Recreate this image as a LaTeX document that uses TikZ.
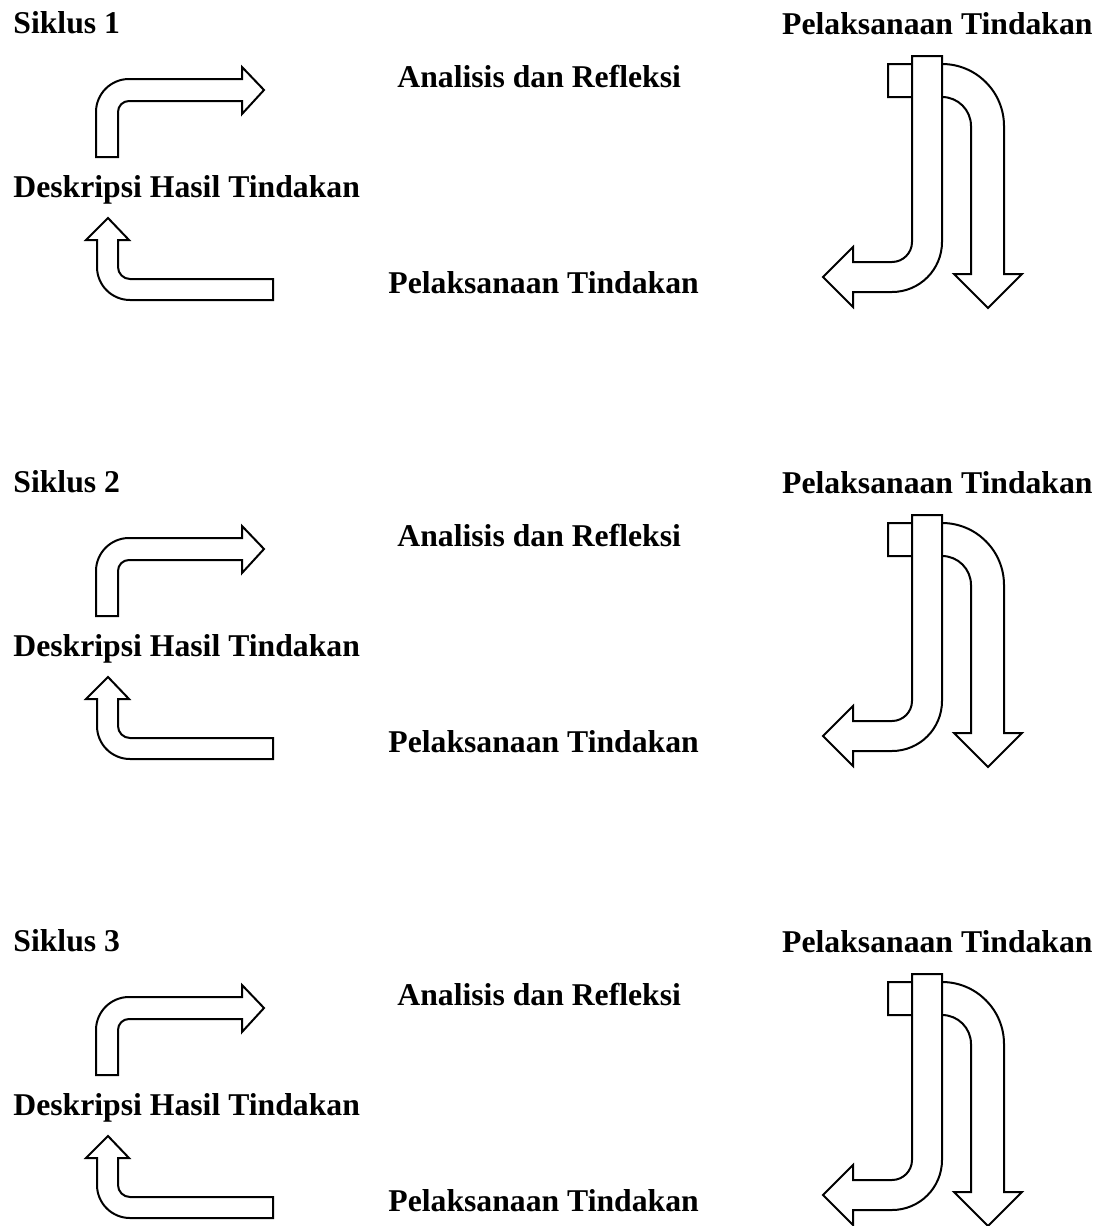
\documentclass[tikz,border=0pt]{standalone}
\usepackage{fontspec}
\setmainfont{Liberation Serif}
\usepackage{tikz}
\usetikzlibrary{positioning}

\begin{document}
\begin{tikzpicture}[x=0.5pt,y=-0.5pt,
  lbl/.style={inner sep=0pt,anchor=base west,font=\fontsize{15.85}{19}\selectfont\bfseries},
  blok/.style={draw=black,line width=1pt,fill=white,line join=miter}]
\useasboundingbox (0,0) rectangle (1102,1226);
\foreach \k in {1,2,3}{
\begin{scope}[shift={(0,{459*(\k-1)})}]
%-------->labels<--------------
\node[lbl] (sik\k) at (13,33) {Siklus \k}; % judul
\node[lbl,anchor=base east] (pelA\k) at (1093,34) {Pelaksanaan Tindakan}; % kanan atas
\node[lbl] (ana\k) at (397,87) {Analisis dan Refleksi};
\node[lbl] (des\k) at (13,197) {Deskripsi Hasil Tindakan};
\node[lbl] (pelB\k) at (388,293) {Pelaksanaan Tindakan};
%------------->left arrows<------------------
\draw[blok] (96,157) -- (96,112) .. controls (96,93.8) and (110.8,79) .. (129,79)
  -- (242,79) -- (242,67) -- (264,90) -- (242,114) -- (242,101) -- (129,101)
  .. controls (122.9,101) and (118,105.9) .. (118,112) -- (118,157) -- cycle;
\draw[blok] (108,218) -- (129,240) -- (118,240) -- (118,267)
  .. controls (118,273.6) and (123.4,279) .. (130,279) -- (273,279) -- (273,300)
  -- (130,300) .. controls (111.8,300) and (97,285.2) .. (97,267) -- (97,240)
  -- (86,240) -- cycle;
%----------------> right arrows<------------------
\draw[blok] (888,64) -- (942,64) .. controls (976.2,64) and (1004,91.8) .. (1004,126)
  -- (1004,274) -- (1022,274) -- (988,308) -- (954,274) -- (971,274) -- (971,126)
  .. controls (971,110) and (958,97) .. (942,97) -- (888,97) -- cycle;
\draw[blok] (912,56) -- (942,56) -- (942,242) .. controls (942,269.6) and (919.6,292) .. (892,292)
  -- (853,292) -- (853,307) -- (823,277) -- (853,247) -- (853,262) -- (892,262)
  .. controls (903,262) and (912,253) .. (912,242) -- cycle;
\end{scope}
}
\end{tikzpicture}
\end{document}
